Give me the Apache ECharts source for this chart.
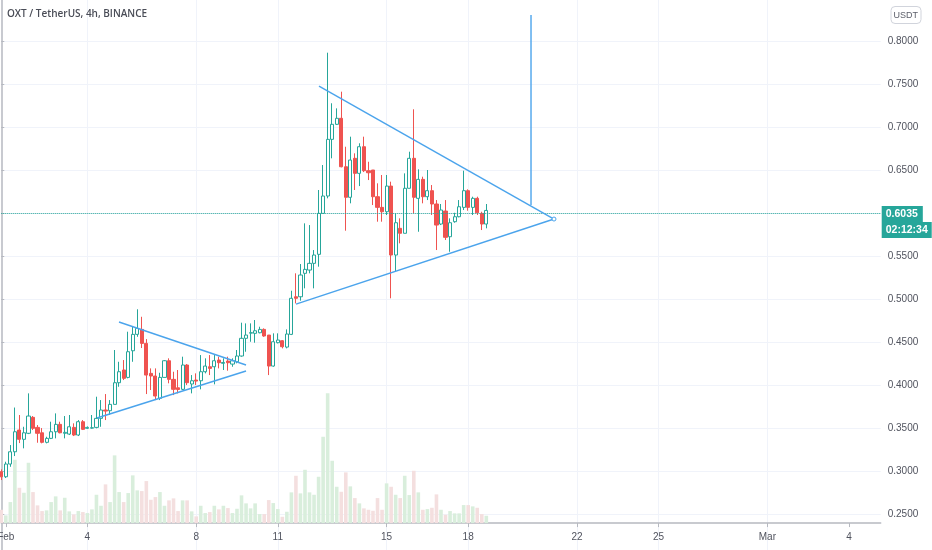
<!DOCTYPE html>
<html><head><meta charset="utf-8">
<script src="https://cdn.jsdelivr.net/npm/echarts@6/dist/echarts.min.js"></script>
<style>html,body{margin:0;padding:0;background:#fff}#c{width:932px;height:550px}</style>
</head><body><div id="c"></div>
<script>
// ---- data ----
const symbolTitle = 'OXT / TetherUS, 4h, BINANCE';
const quoteUnit = 'USDT';
const firstSlotUTC = Date.UTC(2021, 0, 31, 20); // first 4h slot shown
const slotHours = 4;
const slotCount = 195;
const tickDates = ['2021-02-01','2021-02-04','2021-02-08','2021-02-11','2021-02-15','2021-02-18','2021-02-22','2021-02-25','2021-03-01','2021-03-04'];
const tickLabels = ['Feb','4','8','11','15','18','22','25','Mar','4'];

const opens = [0.2992,0.2934,0.3082,0.3225,0.3478,0.3370,0.3440,0.3626,0.3509,0.3446,
0.3335,0.3381,0.3458,0.3544,0.3440,0.3431,0.3509,0.3420,0.3575,0.3498,
0.3500,0.3509,0.3614,0.3711,0.3703,0.3777,0.4029,0.4177,0.4091,0.4401,
0.4592,0.4650,0.4487,0.4138,0.4107,0.3847,0.4091,0.4285,0.4068,0.3970,
0.3952,0.4235,0.4014,0.4060,0.4052,0.4157,0.4215,0.4215,0.4293,0.4255,
0.4281,0.4246,0.4273,0.4340,0.4546,0.4606,0.4604,0.4611,0.4650,0.4584,
0.4223,0.4495,0.4518,0.4444,0.4592,0.5030,0.5030,0.5303,0.5341,0.5419,
0.5524,0.6001,0.6203,0.6863,0.7038,0.7108,0.6544,0.6188,0.6642,0.6467,
0.6777,0.6498,0.6506,0.6195,0.6071,0.6020,0.6319,0.5516,0.5827,0.5769,
0.6293,0.6642,0.6176,0.6397,0.6195,0.6265,0.6110,0.5877,0.6028,0.5729,
0.5904,0.5962,0.6071,0.6265,0.6071,0.6176,0.6001,0.5877];
const closes = [0.2934,0.3082,0.3225,0.3458,0.3370,0.3446,0.3641,0.3498,0.3440,0.3335,
0.3381,0.3458,0.3544,0.3446,0.3451,0.3516,0.3420,0.3575,0.3486,0.3509,
0.3505,0.3614,0.3711,0.3699,0.3777,0.4029,0.4157,0.4080,0.4390,0.4592,
0.4662,0.4487,0.4118,0.4107,0.3874,0.4091,0.4285,0.4068,0.3952,0.3950,
0.4235,0.4029,0.4052,0.4048,0.4157,0.4223,0.4196,0.4285,0.4262,0.4265,
0.4262,0.4285,0.4340,0.4546,0.4584,0.4612,0.4634,0.4650,0.4573,0.4223,
0.4506,0.4526,0.4448,0.4596,0.5012,0.5012,0.5283,0.5349,0.5419,0.5516,
0.6001,0.6203,0.6863,0.7038,0.7108,0.6544,0.6188,0.6622,0.6467,0.6777,
0.6498,0.6474,0.6195,0.6071,0.6020,0.6319,0.5516,0.5892,0.5769,0.6293,
0.6642,0.6188,0.6397,0.6195,0.6265,0.6110,0.5865,0.6040,0.5722,0.5892,
0.5962,0.6078,0.6265,0.6071,0.6176,0.6008,0.5877,0.6035];
const lows = [0.2896,0.2919,0.3050,0.3175,0.3326,0.3265,0.3431,0.3478,0.3330,0.3323,
0.3323,0.3373,0.3381,0.3440,0.3381,0.3420,0.3408,0.3408,0.3478,0.3490,
0.3495,0.3498,0.3516,0.3594,0.3653,0.3777,0.3982,0.4060,0.4080,0.4273,
0.4564,0.4433,0.3897,0.3944,0.3827,0.3827,0.4091,0.4022,0.3885,0.3905,
0.3944,0.4002,0.3905,0.4002,0.3952,0.4138,0.4118,0.4010,0.4196,0.4177,
0.4169,0.4215,0.4255,0.4332,0.4390,0.4506,0.4495,0.4604,0.4564,0.4118,
0.4215,0.4487,0.4429,0.4429,0.4584,0.4953,0.4984,0.5128,0.5303,0.5128,
0.5380,0.6001,0.6176,0.6642,0.7030,0.6537,0.5799,0.6118,0.6273,0.6319,
0.6482,0.6389,0.6098,0.5904,0.5904,0.5982,0.5012,0.5321,0.5652,0.5769,
0.6293,0.6001,0.5787,0.6118,0.6156,0.5982,0.5574,0.5865,0.5691,0.5554,
0.5892,0.5955,0.6040,0.6032,0.5982,0.5982,0.5807,0.5827];
const highs = [0.3020,0.3109,0.3303,0.3740,0.3653,0.3516,0.3905,0.3641,0.3536,0.3501,
0.3400,0.3575,0.3672,0.3575,0.3641,0.3653,0.3556,0.3594,0.3594,0.3520,
0.3653,0.3866,0.3827,0.3897,0.3827,0.4410,0.4273,0.4293,0.4623,0.4681,
0.4884,0.4797,0.4537,0.4196,0.4196,0.4145,0.4293,0.4313,0.4157,0.4177,
0.4332,0.4246,0.4118,0.4138,0.4351,0.4313,0.4351,0.4351,0.4332,0.4313,
0.4332,0.4313,0.4410,0.4728,0.4720,0.4720,0.4759,0.4681,0.4662,0.4584,
0.4604,0.4604,0.4526,0.4650,0.5100,0.5303,0.5411,0.5885,0.5865,0.5574,
0.6273,0.6564,0.7872,0.7283,0.7224,0.7418,0.6777,0.6894,0.6700,0.6817,
0.6894,0.6602,0.6506,0.6351,0.6448,0.6448,0.6370,0.6001,0.5943,0.6467,
0.6719,0.7213,0.6514,0.6428,0.6506,0.6331,0.6156,0.6110,0.6156,0.5943,
0.6008,0.6156,0.6498,0.6281,0.6195,0.6195,0.6020,0.6110];
const volumes = [133,77,210,633,353,303,603,310,177,120,
127,210,267,127,253,117,87,120,110,100,
137,283,173,387,210,677,310,210,300,477,
327,320,420,233,260,310,173,227,247,120,
227,227,117,67,173,100,110,173,137,173,
150,100,143,277,197,147,197,90,90,230,
200,140,63,113,307,473,297,533,307,283,
463,863,1297,623,363,313,507,367,250,197,
147,133,123,250,133,397,363,283,250,473,
280,523,307,133,140,153,287,133,83,120,
97,97,180,180,167,153,90,73];

const lastPrice = 0.6035;
const countdown = '02:12:34';

// drawn trendlines: [slot position, price]
const smallUpperLine = [[25.97,0.4736],[53.99,0.4235]];
const smallLowerLine = [[21.12,0.3618],[53.99,0.4165]];
const bigUpperLine = [[70.09,0.7484],[121.93,0.5935]];
const bigLowerLine = [[65.02,0.4945],[121.93,0.5935]];
const verticalLine = [[116.86,0.8311],[116.86,0.6098]];

// ---- build ----
function pad(n){return (n<10?'0':'')+n;}
const categories = [];
for (let k = 0; k < slotCount; k++) {
  const d = new Date(firstSlotUTC + k*slotHours*3600*1000);
  categories.push(d.getUTCFullYear()+'-'+pad(d.getUTCMonth()+1)+'-'+pad(d.getUTCDate())+' '+pad(d.getUTCHours())+':00');
}
const tickMap = {};
tickDates.forEach((t,j)=>{ const idx = categories.indexOf(t+' 00:00'); if (idx>=0) tickMap[idx]=tickLabels[j]; });
const isTick = (idx)=> tickMap[idx] !== undefined;

const candleData = opens.map((o,i)=>[o, closes[i], lows[i], highs[i]]);
const UP='#26a69a', DOWN='#ef5350', VOL_UP='#d9eedc', VOL_DOWN='#f4dfdf';
const volData = volumes.map((v,i)=>({value:v, itemStyle:{color: closes[i]>=opens[i]?VOL_UP:VOL_DOWN}}));

// layout of the single grid
const GL = 1.27, GR = 51.3, GTOP = -1.235, GH = 558.2;
const AXIS_OFFSET = -33.9;       // x axis drawn inside the grid, above its bottom
const VOL_MIN = -339, VOL_MAX = 5243;  // volume axis range so that zero sits on the x axis
const lineColor = '#4ba4ec';
function trend(data, endMarker){
  const pts = data.map((p,k)=> (endMarker && k===data.length-1)
    ? {value:p, symbol:'circle', symbolSize:4, itemStyle:{color:'#ffffff', borderColor:lineColor, borderWidth:1}}
    : {value:p, symbol:'none'});
  return {type:'line', xAxisIndex:1, yAxisIndex:0, data:pts, showSymbol:true, symbol:'none', silent:true,
    lineStyle:{color:lineColor, width:1.4}, itemStyle:{color:lineColor}, z:5};
}
const font = 'Liberation Sans, Arial, sans-serif';

const chart = echarts.init(document.getElementById('c'), null, {renderer:'canvas'});
chart.setOption({
  animation:false,
  backgroundColor:'#ffffff',
  title:[
    {text:symbolTitle, left:7, top:9, padding:0, textStyle:{fontFamily:'Open Sans', fontSize:10, fontWeight:600, color:'#4a4d57'}},
    {text:quoteUnit, right:11, top:6, padding:[5,3,4,3], borderColor:'#d1d4dc', borderWidth:1, borderRadius:4,
      textStyle:{fontFamily:font, fontSize:9, fontWeight:'normal', color:'#5d606b'}}
  ],
  grid:[{left:GL, right:GR, top:GTOP, height:GH, containLabel:false, outerBoundsMode:'none'}],
  xAxis:[
    {type:'category', gridIndex:0, data:categories, boundaryGap:false, position:'bottom', offset:AXIS_OFFSET,
      axisLine:{show:true, onZero:false, lineStyle:{color:'#b6b9c0', width:1.5}},
      axisTick:{show:true, interval:(i)=>isTick(i), length:4, lineStyle:{color:'#b6b9c0'}},
      axisLabel:{show:true, interval:(i)=>isTick(i), formatter:(v,i)=>tickMap[i]||'', margin:9,
        fontFamily:font, fontSize:10, color:'#50535e'},
      splitLine:{show:true, showMinLine:false, showMaxLine:false, interval:(i)=>isTick(i), lineStyle:{color:'#f0f3fa', width:1}}},
    {type:'value', gridIndex:0, min:0, max:slotCount-1, show:false,
      axisLine:{show:false}, axisTick:{show:false}, axisLabel:{show:false}, splitLine:{show:false}}
  ],
  yAxis:[
    {type:'value', gridIndex:0, position:'right', min:0.2, max:0.85, interval:0.05,
      axisLine:{show:true, lineStyle:{color:'#b6b9c0', width:1.5}},
      axisTick:{show:true, length:3, lineStyle:{color:'#b6b9c0'}},
      axisLabel:{showMinLabel:false, showMaxLabel:false, margin:7, formatter:(v)=>v.toFixed(4),
        fontFamily:font, fontSize:10, color:'#50535e'},
      splitLine:{show:true, showMinLine:false, showMaxLine:false, lineStyle:{color:'#f0f3fa', width:1}}},
    {type:'value', gridIndex:0, min:VOL_MIN, max:VOL_MAX, show:false,
      axisLine:{show:false}, axisTick:{show:false}, axisLabel:{show:false}, splitLine:{show:false}}
  ],
  series:[
    {type:'bar', xAxisIndex:0, yAxisIndex:1, data:volData, barWidth:3.6, silent:true, z:1},
    {type:'candlestick', xAxisIndex:0, yAxisIndex:0, data:candleData, barWidth:3.6, silent:true, z:3,
      itemStyle:{color:'#ffffff', color0:DOWN, borderColor:UP, borderColor0:DOWN, borderWidth:1},
      markLine:{silent:true, symbol:['none','none'], animation:false,
        lineStyle:{type:'dotted', color:'#26a69a', width:1},
        label:{show:true, position:'end', distance:1, padding:[17,0,0,0],
          formatter:'{a|'+lastPrice.toFixed(4)+'}\n{b|'+countdown+'}',
          rich:{
            a:{backgroundColor:'#26a69a', color:'#ffffff', fontFamily:font, fontSize:10.5, fontWeight:'bold', padding:[3,5,2,4], lineHeight:16},
            b:{backgroundColor:'#26a69a', color:'#ffffff', fontFamily:font, fontSize:10.5, fontWeight:'bold', padding:[3,4,2,4], lineHeight:16}
          }},
        data:[{yAxis:lastPrice}]}},
    trend(smallUpperLine), trend(smallLowerLine), trend(bigUpperLine, true), trend(bigLowerLine), trend(verticalLine)
  ]
});
</script></body></html>
